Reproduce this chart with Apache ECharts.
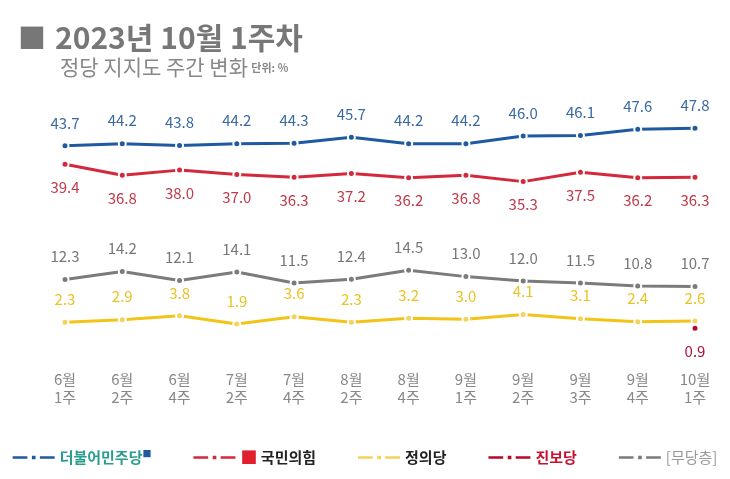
<!DOCTYPE html>
<html><head><meta charset="utf-8">
<script src="https://cdn.jsdelivr.net/npm/echarts@6/dist/echarts.min.js"></script>
<style>html,body{margin:0;padding:0;background:#fff}#c{width:730px;height:479px}</style>
</head><body><div id="c"></div>
<script>
const categories = ['6월\n1주','6월\n2주','6월\n4주','7월\n2주','7월\n4주','8월\n2주','8월\n4주','9월\n1주','9월\n2주','9월\n3주','9월\n4주','10월\n1주'];
const minjoo = [43.7,44.2,43.8,44.2,44.3,45.7,44.2,44.2,46.0,46.1,47.6,47.8];
const ppp = [39.4,36.8,38.0,37.0,36.3,37.2,36.2,36.8,35.3,37.5,36.2,36.3];
const nonpartisan = [12.3,14.2,12.1,14.1,11.5,12.4,14.5,13.0,12.0,11.5,10.8,10.7];
const justice = [2.3,2.9,3.8,1.9,3.6,2.3,3.2,3.0,4.1,3.1,2.4,2.6];
const progressive = [null,null,null,null,null,null,null,null,null,null,null,0.9];
const names = ['더불어민주당','국민의힘','정의당','진보당','[무당층]'];

const FONT = '"Noto Sans CJK KR","Noto Sans",sans-serif';
const iconPath = 'path://M0,4h13v2.4H0z M17,3.6h3.2v3.2h-3.2z M24,4h13v2.4H24z';

function mk(name, data, color, labelColor, pos, dotColor) {
  return {
    name, type: 'line', data,
    symbol: 'circle', symbolSize: 7,
    lineStyle: { color, width: 3 },
    itemStyle: { color: dotColor || color, borderColor: '#fff', borderWidth: 2 },
    label: { show: true, position: pos, distance: 11, color: labelColor, fontSize: 15, fontFamily: FONT,
             formatter: p => p.value == null ? '' : Number(p.value).toFixed(1) },
    emphasis: { disabled: true },
    z: 3
  };
}

const legendRich = {
  m: { fontSize: 15, fontWeight: 'bold', color: '#2a9d8f', fontFamily: FONT },
  mb: { fontSize: 9, color: '#1f5aa0', fontFamily: FONT, verticalAlign: 'top', padding: [0,0,8,0] },
  pr: { fontSize: 17, color: '#e0202e', fontFamily: FONT },
  k: { fontSize: 15, fontWeight: 'bold', color: '#222', fontFamily: FONT },
  j: { fontSize: 15, fontWeight: 'bold', color: '#c8102e', fontFamily: FONT },
  g: { fontSize: 15, color: '#999', fontFamily: FONT }
};

const chart = echarts.init(document.getElementById('c'), null, { renderer: 'canvas' });
chart.setOption({
  backgroundColor: '#fff',
  animation: false,
  title: {
    left: 13, top: 18,
    text: '{sq|■}{t|2023년 10월 1주차}',
    textStyle: { rich: {
      sq: { fontSize: 28, color: '#777', fontFamily: FONT, padding: [0,9,0,0] },
      t: { fontSize: 30, fontWeight: 'bold', color: '#777', fontFamily: FONT }
    } },
    subtext: '{s|정당 지지도 주간 변화} {u|단위: %}',
    subtextStyle: { rich: {
      s: { fontSize: 21, color: '#888', fontFamily: FONT, padding: [0,0,0,42] },
      u: { fontSize: 11, color: '#888', fontFamily: FONT, fontWeight: 'bold' }
    } },
    itemGap: 4
  },
  grid: { left: 65, right: 35, top: 119, bottom: 147 },
  xAxis: {
    type: 'category', data: categories, boundaryGap: false,
    axisLine: { show: false }, axisTick: { show: false }, splitLine: { show: false },
    axisLabel: { margin: 38, color: '#888', fontSize: 15, lineHeight: 18, fontFamily: FONT, interval: 0 }
  },
  yAxis: { type: 'value', min: 0, max: 50, show: false },
  legend: {
    bottom: 8, left: 'center', itemWidth: 42, itemHeight: 11, itemGap: 42,
    icon: iconPath,
    itemStyle: { borderWidth: 0 },
    textStyle: { rich: legendRich },
    formatter: function (n) {
      if (n === names[0]) return '{m|' + n + '}{mb|■}';
      if (n === names[1]) return '{pr|■}{k| ' + n + '}';
      if (n === names[2]) return '{k|' + n + '}';
      if (n === names[3]) return '{j|' + n + '}';
      return '{g|' + n + '}';
    },
    data: names
  },
  series: [
    mk(names[0], minjoo, '#1f5aa0', '#3a6aa3', 'top'),
    mk(names[1], ppp, '#d4283c', '#c0394a', 'bottom'),
    mk(names[2], justice, '#f2c417', '#e8c325', 'top', '#f5d35a'),
    mk(names[3], progressive, '#b5082a', '#b01030', 'bottom'),
    mk(names[4], nonpartisan, '#7b7b7b', '#777', 'top')
  ]
});
</script></body></html>
